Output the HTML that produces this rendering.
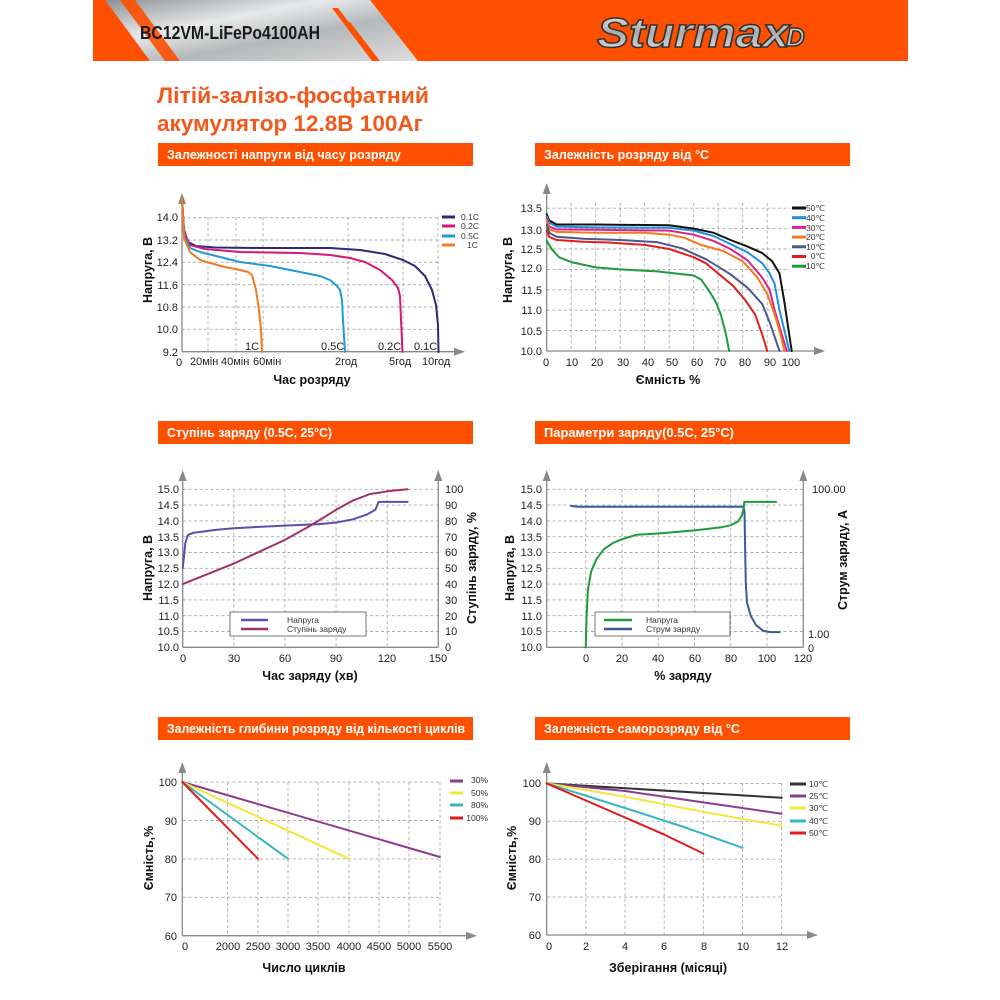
<!DOCTYPE html>
<html><head><meta charset="utf-8">
<style>
html,body{margin:0;padding:0;background:#fff;}
svg{display:block;font-family:"Liberation Sans",sans-serif;}
.t{font-size:11px;fill:#222;}
.al{font-size:12.5px;fill:#111;font-weight:bold;}
.bt{font-size:13px;fill:#fff;font-weight:bold;}
.lg{font-size:8.5px;fill:#333;}
</style></head><body>
<svg id="s" width="1000" height="1000" viewBox="0 0 1000 1000" xmlns="http://www.w3.org/2000/svg">
<defs>
<linearGradient id="met" x1="0" y1="0" x2="1" y2="1">
<stop offset="0" stop-color="#8d9194"/><stop offset="0.35" stop-color="#e8e9ea"/><stop offset="0.6" stop-color="#b5b8ba"/><stop offset="1" stop-color="#dcdddd"/></linearGradient>
<linearGradient id="sil" x1="0" y1="0" x2="0" y2="1">
<stop offset="0" stop-color="#f4f4f4"/><stop offset="0.5" stop-color="#a9abad"/><stop offset="1" stop-color="#e6e6e6"/></linearGradient>
</defs>
<rect x="93" y="0" width="815" height="61" fill="#fe5000"/>
<polygon points="105,0 370,0 418,61 150,61" fill="url(#met)"/>
<polygon points="93,0 105,0 150,61 93,61" fill="#fe5000"/>
<polygon points="120,0 135,0 180,61 165,61" fill="#fe5000" opacity="0.9"/>
<polygon points="332,8 338,8 378,61 372,61" fill="#fe5000"/>
<polygon points="345,22 350,22 380,61 375,61" fill="#fe5000"/>
<text x="140" y="39" textLength="180" lengthAdjust="spacingAndGlyphs" style="font-size:18px;font-weight:bold;fill:#1a1a1a">BC12VM-LiFePo4100AH</text>
<text x="597" y="47" textLength="192" lengthAdjust="spacingAndGlyphs" style="font-size:42px;font-style:italic;font-weight:bold;fill:url(#sil);stroke:#333;stroke-width:1.5">Sturmax</text>
<text x="786" y="46" style="font-size:26px;font-style:italic;font-weight:bold;fill:url(#sil);stroke:#333;stroke-width:1.5">D</text>

<text x="157" y="103" textLength="272" lengthAdjust="spacingAndGlyphs" style="font-size:22px;font-weight:bold;fill:#f05a1e">Літій-залізо-фосфатний</text>
<text x="157" y="131" textLength="266" lengthAdjust="spacingAndGlyphs" style="font-size:22px;font-weight:bold;fill:#f05a1e">акумулятор 12.8В 100Аг</text>

<rect x="158" y="143" width="315" height="23" fill="#fe5000"/><text x="167" y="159" class="bt" textLength="234" lengthAdjust="spacingAndGlyphs">Залежності напруги від часу розряду</text>
<rect x="535" y="143" width="315" height="23" fill="#fe5000"/><text x="544" y="159" class="bt" textLength="165" lengthAdjust="spacingAndGlyphs">Залежність розряду від °C</text>
<rect x="158" y="421" width="315" height="23" fill="#fe5000"/><text x="167" y="437" class="bt" textLength="165" lengthAdjust="spacingAndGlyphs">Ступінь заряду (0.5C, 25°C)</text>
<rect x="535" y="421" width="315" height="23" fill="#fe5000"/><text x="544" y="437" class="bt" textLength="190" lengthAdjust="spacingAndGlyphs">Параметри заряду(0.5C, 25°C)</text>
<rect x="158" y="717" width="315" height="23" fill="#fe5000"/><text x="167" y="733" class="bt" textLength="298" lengthAdjust="spacingAndGlyphs">Залежність глибини розряду від кількості циклів</text>
<rect x="535" y="717" width="315" height="23" fill="#fe5000"/><text x="544" y="733" class="bt" textLength="196" lengthAdjust="spacingAndGlyphs">Залежність саморозряду від °C</text>

<g id="g"></g>

<g class="t" text-anchor="end">
<text x="178" y="221">14.0</text><text x="178" y="244">13.2</text><text x="178" y="266">12.4</text><text x="178" y="289">11.6</text><text x="178" y="311">10.8</text><text x="178" y="333">10.0</text><text x="178" y="356">9.2</text></g>
<g class="t"><text x="176" y="366">0</text><text x="190" y="365">20мін</text><text x="221" y="365">40мін</text><text x="253" y="365">60мін</text><text x="335" y="365">2год</text><text x="389" y="365">5год</text><text x="422" y="365">10год</text>
<text x="245" y="350">1C</text><text x="321" y="350">0.5C</text><text x="378" y="350">0.2C</text><text x="414" y="350">0.1C</text></g>
<g class="lg"><text x="461" y="220">0.1C</text><text x="461" y="229">0.2C</text><text x="461" y="239">0.5C</text><text x="467" y="248">1C</text></g>
<text x="312" y="384" class="al" text-anchor="middle">Час розряду</text>
<text transform="translate(152,270) rotate(-90)" class="al" text-anchor="middle">Напруга, В</text>

<g class="t" text-anchor="end">
<text x="542" y="212">13.5</text><text x="542" y="234">13.0</text><text x="542" y="253">12.5</text><text x="542" y="272">12.0</text><text x="542" y="294">11.5</text><text x="542" y="314">11.0</text><text x="542" y="335">10.5</text><text x="542" y="355">10.0</text></g>
<g class="t" text-anchor="middle"><text x="546" y="366">0</text><text x="572" y="366">10</text><text x="597" y="366">20</text><text x="623" y="366">30</text><text x="648" y="366">40</text><text x="672" y="366">50</text><text x="697" y="366">60</text><text x="720" y="366">70</text><text x="745" y="366">80</text><text x="770" y="366">90</text><text x="791" y="366">100</text></g>
<g class="lg" text-anchor="end"><text x="825" y="211">50℃</text><text x="825" y="221">40℃</text><text x="825" y="231">30℃</text><text x="825" y="240">20℃</text><text x="825" y="250">10℃</text><text x="825" y="259">0℃</text><text x="825" y="269">-10℃</text></g>
<text x="668" y="384" class="al" text-anchor="middle">Ємність %</text>
<text transform="translate(512,270) rotate(-90)" class="al" text-anchor="middle">Напруга, В</text>

<g class="t" text-anchor="end">
<text x="179" y="493">15.0</text><text x="179" y="509">14.5</text><text x="179" y="525">14.0</text><text x="179" y="541">13.5</text><text x="179" y="556">13.0</text><text x="179" y="572">12.5</text><text x="179" y="588">12.0</text><text x="179" y="604">11.5</text><text x="179" y="620">11.0</text><text x="179" y="635">10.5</text><text x="179" y="651">10.0</text></g>
<g class="t"><text x="445" y="493">100</text><text x="445" y="509">90</text><text x="445" y="525">80</text><text x="445" y="541">70</text><text x="445" y="556">60</text><text x="445" y="572">50</text><text x="445" y="588">40</text><text x="445" y="604">30</text><text x="445" y="620">20</text><text x="445" y="635">10</text><text x="445" y="651">0</text></g>
<g class="t" text-anchor="middle"><text x="183" y="662">0</text><text x="234" y="662">30</text><text x="285" y="662">60</text><text x="336" y="662">90</text><text x="387" y="662">120</text><text x="438" y="662">150</text></g>
<rect x="230" y="612" width="136" height="24" fill="#fff" stroke="#555" stroke-width="0.8"/>
<line x1="241" y1="620" x2="268" y2="620" stroke="#5a4fb0" stroke-width="2.5"/>
<line x1="241" y1="629" x2="268" y2="629" stroke="#a0306e" stroke-width="2.5"/>
<g class="lg"><text x="287" y="623">Напруга</text><text x="287" y="632">Ступінь заряду</text></g>
<text x="310" y="680" class="al" text-anchor="middle">Час заряду (хв)</text>
<text transform="translate(152,568) rotate(-90)" class="al" text-anchor="middle">Напруга, В</text>
<text transform="translate(476,568) rotate(-90)" class="al" text-anchor="middle">Ступінь заряду, %</text>

<g class="t" text-anchor="end">
<text x="542" y="493">15.0</text><text x="542" y="509">14.5</text><text x="542" y="525">14.0</text><text x="542" y="541">13.5</text><text x="542" y="556">13.0</text><text x="542" y="572">12.5</text><text x="542" y="588">12.0</text><text x="542" y="604">11.5</text><text x="542" y="620">11.0</text><text x="542" y="635">10.5</text><text x="542" y="651">10.0</text></g>
<g class="t"><text x="812" y="493">100.00</text><text x="808" y="638">1.00</text><text x="808" y="652">0</text></g>
<g class="t" text-anchor="middle"><text x="586" y="662">0</text><text x="622" y="662">20</text><text x="658" y="662">40</text><text x="695" y="662">60</text><text x="731" y="662">80</text><text x="767" y="662">100</text><text x="803" y="662">120</text></g>
<rect x="595" y="612" width="135" height="24" fill="#fff" stroke="#555" stroke-width="0.8"/>
<line x1="604" y1="620" x2="632" y2="620" stroke="#1f9a3f" stroke-width="2.5"/>
<line x1="604" y1="629" x2="632" y2="629" stroke="#3b5a9a" stroke-width="2.5"/>
<g class="lg"><text x="646" y="623">Напруга</text><text x="646" y="632">Струм заряду</text></g>
<text x="683" y="680" class="al" text-anchor="middle">% заряду</text>
<text transform="translate(514,568) rotate(-90)" class="al" text-anchor="middle">Напруга, В</text>
<text transform="translate(847,560) rotate(-90)" class="al" text-anchor="middle">Струм заряду, А</text>

<g class="t" text-anchor="end"><text x="177" y="786">100</text><text x="177" y="825">90</text><text x="177" y="863">80</text><text x="177" y="901">70</text><text x="177" y="940">60</text></g>
<g class="t" text-anchor="middle"><text x="185" y="950">0</text><text x="228" y="950">2000</text><text x="258" y="950">2500</text><text x="288" y="950">3000</text><text x="318" y="950">3500</text><text x="349" y="950">4000</text><text x="379" y="950">4500</text><text x="409" y="950">5000</text><text x="440" y="950">5500</text></g>
<g class="lg" text-anchor="end"><text x="488" y="783">30%</text><text x="488" y="796">50%</text><text x="488" y="808">80%</text><text x="488" y="821">100%</text></g>
<text x="304" y="972" class="al" text-anchor="middle">Число циклів</text>
<text transform="translate(153,858) rotate(-90)" class="al" text-anchor="middle">Ємність,%</text>

<g class="t" text-anchor="end"><text x="541" y="787">100</text><text x="541" y="825">90</text><text x="541" y="863">80</text><text x="541" y="901">70</text><text x="541" y="939">60</text></g>
<g class="t" text-anchor="middle"><text x="549" y="950">0</text><text x="586" y="950">2</text><text x="625" y="950">4</text><text x="664" y="950">6</text><text x="704" y="950">8</text><text x="743" y="950">10</text><text x="782" y="950">12</text></g>
<g class="lg" text-anchor="end"><text x="828" y="787">10℃</text><text x="828" y="799">25℃</text><text x="828" y="811">30℃</text><text x="828" y="824">40℃</text><text x="828" y="836">50℃</text></g>
<text x="668" y="972" class="al" text-anchor="middle">Зберігання (місяці)</text>
<text transform="translate(516,858) rotate(-90)" class="al" text-anchor="middle">Ємність,%</text>
</svg>
<script>
var G=document.getElementById('g'),o='';
function L(x1,y1,x2,y2,c,w,d){o+='<line x1="'+x1+'" y1="'+y1+'" x2="'+x2+'" y2="'+y2+'" stroke="'+c+'" stroke-width="'+w+'"'+(d?' stroke-dasharray="3,2.5"':'')+'/>';}
function P(pts,c,w){o+='<polyline fill="none" stroke="'+c+'" stroke-width="'+(w||2)+'" stroke-linejoin="round" stroke-linecap="round" points="'+pts.map(function(p){return p[0].toFixed(1)+','+p[1].toFixed(1)}).join(' ')+'"/>';}
function AX(x,y0,y1,xe){L(x,y0,x,y1,'#888',1.3);o+='<polygon points="'+(x-4)+','+(y0+1)+' '+(x+4)+','+(y0+1)+' '+x+','+(y0-10)+'" fill="#888"/>';if(xe){L(x,y1,xe,y1,'#888',1.3);o+='<polygon points="'+(xe-1)+','+(y1-4)+' '+(xe-1)+','+(y1+4)+' '+(xe+10)+','+y1+'" fill="#888"/>';}}
function S(pts,mx,my){return pts.map(function(p){return [mx(p[0]),my(p[1])]});}
var gc='#aaa';
[217.7,240,262.3,284.7,307,329.3].forEach(function(y){L(182,y,438,y,gc,0.9,1)});
[208,236,263,348,403,438].forEach(function(x){L(x,217,x,351.7,gc,0.9,1)});
AX(182,203,351.7,455);
P([[182,198],[184,230],[188,242],[196,246],[215,247.5],[260,248],[330,248],[360,250],[385,254],[403,260],[415,266],[425,276],[432,290],[436,305],[438,325],[438.5,352]],'#2b2a7a');
P([[182,198],[184,232],[190,245],[205,249],[240,252],[300,253],[330,255],[350,258],[365,262],[380,270],[392,280],[398,288],[400,296],[401,320],[402.5,352]],'#d6177a');
P([[182,198],[184,236],[190,248],[200,252],[220,257],[240,262],[270,266],[300,272],[320,276],[330,280],[337,286],[340,290],[342,300],[343,320],[345,352]],'#1f9ad6');
P([[182,198],[184,238],[190,252],[200,260],[210,263],[225,267],[240,270],[248,272],[252,275],[256,290],[259,310],[261,330],[262,352]],'#f07c1f');
[['#2b2a7a',217],['#d6177a',226],['#1f9ad6',236],['#f07c1f',245]].forEach(function(a){L(442,a[1],455,a[1],a[0],3)});
var mx2=function(p){return 546.7+2.45*p},my2=function(v){return 351-(v-10)*40.8};
[13.5,13,12.5,12,11.5,11,10.5].forEach(function(v){L(547,my2(v),790,my2(v),gc,0.9,1)});
[10,20,30,40,50,60,70,80,90].forEach(function(p){L(mx2(p),203,mx2(p),351,gc,0.9,1)});
AX(546.7,193,351,815);
var c2=[
['#111',[[0,13.35],[1,13.2],[4,13.1],[20,13.1],[50,13.08],[60,13.0],[68,12.9],[75,12.72],[82,12.56],[88,12.4],[92,12.2],[95,11.9],[97,11.2],[98.5,10.6],[100,10]]],
['#1e90e0',[[0,13.3],[1,13.15],[4,13.05],[20,13.03],[50,13.02],[60,12.95],[68,12.82],[75,12.62],[82,12.42],[88,12.15],[91,11.9],[93,11.65],[95,11.0],[97,10.5],[99,10]]],
['#e0208a',[[0,13.25],[1,13.05],[4,12.98],[20,12.97],[50,12.95],[60,12.85],[68,12.7],[75,12.5],[82,12.22],[88,11.8],[91,11.5],[93,11.0],[95,10.6],[98,10]]],
['#f07c1f',[[0,13.2],[1,12.98],[4,12.92],[20,12.9],[40,12.9],[50,12.85],[56,12.78],[63,12.6],[72,12.45],[80,12.2],[86,11.8],[90,11.4],[93,10.9],[95,10.5],[97,10]]],
['#4a5a8a',[[0,13.1],[1,12.9],[4,12.8],[15,12.75],[30,12.72],[45,12.67],[55,12.52],[65,12.25],[75,11.88],[82,11.55],[88,11.15],[91,10.7],[93,10.35],[95,10]]],
['#e21d1d',[[0,12.95],[1,12.8],[4,12.72],[15,12.68],[25,12.66],[40,12.6],[50,12.5],[60,12.3],[65,12.15],[70,11.9],[76,11.6],[81,11.25],[85,10.9],[88,10.4],[90,10]]],
['#1f9a3f',[[0,12.7],[2,12.5],[5,12.3],[10,12.18],[20,12.05],[30,12.0],[45,11.95],[60,11.85],[63,11.75],[66,11.5],[69,11.2],[71,10.9],[73,10.45],[74.5,10]]]];
c2.forEach(function(c,i){P(S(c[1],mx2,my2),c[0],2);L(792,208+i*9.7,806,208+i*9.7,c[0],3)});
var mx3=function(t){return 182.7+1.704*t},my3=function(v){return 647.3-(v-10)*31.6},ms3=function(s){return 647.3-s*1.58};
for(var v=10.5;v<=15;v+=0.5)L(183,my3(v),438,my3(v),gc,0.9,1);
[30,60,90,120].forEach(function(t){L(mx3(t),489,mx3(t),647,gc,0.9,1)});
AX(182.7,480,647.3,0);AX(438.3,480,647.3,0);L(182.7,647.3,438.3,647.3,'#888',1.3);
P(S([[0,12.5],[0.8,12.9],[1.5,13.3],[3,13.55],[6,13.62],[20,13.72],[30,13.77],[60,13.85],[80,13.9],[90,13.95],[100,14.05],[108,14.2],[113,14.35],[115,14.6],[132,14.6]],mx3,my3),'#5a4fb0');
P([[mx3(0),ms3(40)],[mx3(30),ms3(53)],[mx3(60),ms3(68)],[mx3(75),ms3(77)],[mx3(90),ms3(87)],[mx3(100),ms3(93)],[mx3(110),ms3(97)],[mx3(122),ms3(99)],[mx3(132),ms3(100)]],'#a0306e');
var mx4=function(p){return 585.7+1.813*p};
for(var v=10.5;v<=15;v+=0.5)L(547,my3(v),803,my3(v),gc,0.9,1);
[0,20,40,60,80,100].forEach(function(p){L(mx4(p),489,mx4(p),647,gc,0.9,1)});
AX(546.7,480,647.3,0);AX(803.3,480,647.3,0);L(546.7,647.3,803.3,647.3,'#888',1.3);
P(S([[-8,14.47],[-4,14.45],[87,14.45],[87.6,14.3],[88,13],[88.3,12],[89,11.4],[91,11.0],[94,10.7],[98,10.52],[102,10.48],[107,10.48]],mx4,my3),'#3b5a9a');
P(S([[0,10.0],[0.5,11.0],[1.2,11.8],[3,12.4],[6,12.8],[10,13.1],[15,13.3],[20,13.42],[28,13.56],[40,13.6],[60,13.7],[75,13.8],[80,13.86],[84,13.98],[86,14.15],[87,14.35],[87.5,14.6],[105,14.6]],mx4,my3),'#1f9a3f');
var my5=function(v){return 935.7-(v-60)*3.84};
[100,90,80,70].forEach(function(v){L(183,my5(v),440,my5(v),gc,0.9,1)});
[227.7,258,288,318,349,379,409,440].forEach(function(x){L(x,782,x,935.7,gc,0.9,1)});
AX(182.3,772,935.7,467);
P([[182.3,782],[440,857]],'#8e3a8e',2);P([[182.3,782],[349,858.8]],'#f5e63a',2);P([[182.3,782],[288,858.8]],'#3ab5c0',2);P([[182.3,782],[258,858.8]],'#e01b1b',2);
[['#8e3a8e',781],['#f5e63a',793],['#3ab5c0',805],['#e01b1b',818]].forEach(function(a){L(450,a[1],463,a[1],a[0],3)});
var mx6=function(m){return 546.7+19.58*m},my6=function(v){return 935-(v-60)*3.79};
[100,90,80,70].forEach(function(v){L(547,my6(v),782,my6(v),gc,0.9,1)});
[2,4,6,8,10,12].forEach(function(m){L(mx6(m),783,mx6(m),935,gc,0.9,1)});
AX(546.7,772,935,808);
P(S([[0,100],[12,96.2]],mx6,my6),'#333');
P(S([[0,100],[4,98],[8,95],[12,92]],mx6,my6),'#8e3a8e');
P(S([[0,100],[4,96.5],[8,92.5],[12,88.8]],mx6,my6),'#f5e63a');
P(S([[0,100],[4,93.5],[7,88.5],[10,83]],mx6,my6),'#3ab5c0');
P(S([[0,100],[2,95.5],[4,91],[6,86.5],[8,81.5]],mx6,my6),'#e01b1b');
[['#333',784],['#8e3a8e',796],['#f5e63a',808],['#3ab5c0',821],['#e01b1b',833]].forEach(function(a){L(790,a[1],806,a[1],a[0],3)});
G.innerHTML=o;
</script>
</body></html>
